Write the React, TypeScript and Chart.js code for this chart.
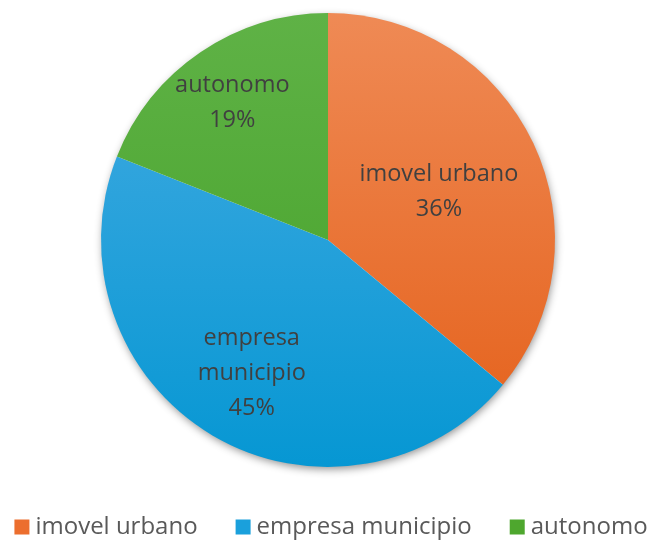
import React, { useEffect, useRef } from "react";
import { Chart, registerables } from "chart.js";
Chart.register(...registerables);

const categories = ["imovel urbano", "empresa municipio", "autonomo"];
const labelLines = [["imovel urbano"], ["empresa", "municipio"], ["autonomo"]];
const values = [36, 45, 19];
const topColors = ["#EF8A55", "#45ABE2", "#5FB246"];
const bottomColors = ["#E45F18", "#0697D3", "#43A026"];
const solidColors = ["#EC6E2E", "#1AA0DC", "#4EA72E"];
const labelRadius = [0.54, 0.66, 0.75];

const FONT = "'Open Sans', Roboto, sans-serif";

const shadowPlugin = {
  id: "pieShadow",
  beforeDatasetsDraw(chart: any) {
    const arc = chart.getDatasetMeta(0).data[0];
    if (!arc) return;
    const ctx = chart.ctx;
    ctx.save();
    ctx.shadowColor = "rgba(0,0,0,0.45)";
    ctx.shadowBlur = 9;
    ctx.shadowOffsetX = 1;
    ctx.shadowOffsetY = 3;
    ctx.fillStyle = "#ffffff";
    ctx.beginPath();
    ctx.arc(arc.x, arc.y, arc.outerRadius - 1, 0, Math.PI * 2);
    ctx.fill();
    ctx.restore();
  },
};

const labelPlugin = {
  id: "sliceLabels",
  afterDatasetsDraw(chart: any) {
    const ctx = chart.ctx;
    const meta = chart.getDatasetMeta(0);
    const total = values.reduce((a, b) => a + b, 0);
    meta.data.forEach((arc: any, i: number) => {
      const mid = (arc.startAngle + arc.endAngle) / 2;
      const r = arc.outerRadius * labelRadius[i];
      const x = arc.x + Math.cos(mid) * r;
      const y = arc.y + Math.sin(mid) * r + 4;
      const lines = [...labelLines[i], Math.round((values[i] / total) * 100) + "%"];
      const lh = 35;
      ctx.save();
      ctx.fillStyle = "#404040";
      ctx.font = "23.5px " + FONT;
      ctx.textAlign = "center";
      ctx.textBaseline = "middle";
      lines.forEach((t, k) => {
        ctx.fillText(t, x, y + (k - (lines.length - 1) / 2) * lh);
      });
      ctx.restore();
    });
  },
};

const legendPlugin = {
  id: "bottomLegend",
  afterDraw(chart: any) {
    const ctx = chart.ctx;
    ctx.save();
    ctx.font = "24px " + FONT;
    const box = 15;
    const boxGap = 6;
    const itemGap = 38;
    const widths = categories.map((t) => box + boxGap + ctx.measureText(t).width);
    const total = widths.reduce((a, b) => a + b, 0) + itemGap * (categories.length - 1);
    let x = 331 - total / 2;
    const y = 527;
    ctx.textBaseline = "middle";
    ctx.textAlign = "left";
    categories.forEach((t, i) => {
      ctx.fillStyle = solidColors[i];
      ctx.fillRect(x, y - box / 2, box, box);
      ctx.fillStyle = "#595959";
      ctx.fillText(t, x + box + boxGap, y);
      x += widths[i] + itemGap;
    });
    ctx.restore();
  },
};

export default function App() {
  const ref = useRef<HTMLCanvasElement>(null);
  useEffect(() => {
    if (!ref.current) return;
    const chart = new Chart(ref.current, {
      type: "pie",
      data: {
        labels: categories,
        datasets: [
          {
            data: values,
            borderWidth: 0,
            backgroundColor: (c: any) => {
              const area = c.chart.chartArea;
              const i = c.dataIndex;
              if (!area) return solidColors[i];
              const g = c.chart.ctx.createLinearGradient(0, area.top, 0, area.bottom);
              g.addColorStop(0, topColors[i]);
              g.addColorStop(1, bottomColors[i]);
              return g;
            },
          },
        ],
      },
      options: {
        animation: false,
        responsive: false,
        layout: { padding: { top: 13, left: 4, right: 0, bottom: 74 } },
        plugins: {
          tooltip: { enabled: false },
          legend: { display: false },
        },
      },
      plugins: [shadowPlugin, labelPlugin, legendPlugin],
    });
    return () => chart.destroy();
  }, []);
  return (
    <div style={{ position: "absolute", left: 0, top: 0, width: 652, height: 541, background: "#fff" }}>
      <canvas ref={ref} width={652} height={541} />
    </div>
  );
}
